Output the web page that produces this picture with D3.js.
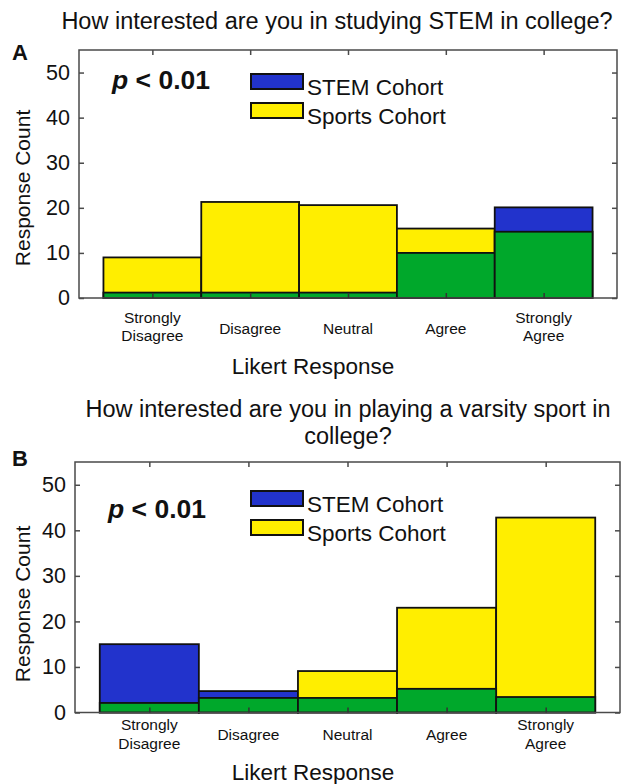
<!DOCTYPE html>
<html lang="en">

<head>
    <meta charset="UTF-8">
    <title>STEM vs Sports cohort Likert responses</title>
    <script src="https://cdn.jsdelivr.net/npm/d3@7"></script>
    <style>
        * {
            margin: 0;
            padding: 0;
        }

        body {
            background: #fff;
        }

        text {
            font-family: "Liberation Sans", Arial, sans-serif;
            fill: #111;
        }
    </style>
</head>

<body>
    <script>
        // data
        const categories = ["Strongly Disagree", "Disagree", "Neutral", "Agree", "Strongly Agree"];
        const stemA = [1.2, 1.2, 1.2, 10, 20.1];
        const sportsA = [9, 21.3, 20.6, 15.4, 14.7];
        const stemB = [15, 4.7, 3.2, 5.2, 3.4];
        const sportsB = [2.1, 3.2, 9.1, 23, 42.8];
        const yTicks = [0, 10, 20, 30, 40, 50];
        const seriesNames = ["STEM Cohort", "Sports Cohort"];

        const width = 624;
        const height = 784;
        const colors = { stem: "#2233cc", sports: "#ffee00", both: "#00a82b" };
        const axisColor = "#4a4a4a";

        const svg = d3.select("body").append("svg").attr("width", width).attr("height", height);

        const panels = [
            {
                letter: "A", title: ["How interested are you in studying STEM in college?"],
                titleX: 337, titleY: 29, stem: stemA, sports: sportsA,
                left: 79, right: 617, top: 50, bottom: 298,
                letterY: 60, pY: 89, legY: 74, lab1: 25, lab2: 43, labSingle: 36, xTitleY: 374, yTitleY: 188
            },
            {
                letter: "B", title: ["How interested are you in playing a varsity sport in", "college?"],
                titleX: 348, titleY: 417, stem: stemB, sports: sportsB,
                left: 75, right: 620, top: 462, bottom: 712.5,
                letterY: 466, pY: 518, legY: 491, lab1: 17.5, lab2: 36.5, labSingle: 27.5, xTitleY: 780, yTitleY: 604
            }
        ];

        const drawPanel = (p) => {
            const g = svg.append("g");
            const x = d3.scaleLinear().domain([0.25, 5.75]).range([p.left, p.right]);
            const y = d3.scaleLinear().domain([0, 55]).range([p.bottom, p.top]);
            const rows = categories.map((c, i) => ({
                c, i: i + 1, stem: p.stem[i], sports: p.sports[i],
                hi: Math.max(p.stem[i], p.sports[i]), lo: Math.min(p.stem[i], p.sports[i])
            }));

            // full bar in the colour of the larger cohort
            g.selectAll("rect.hi")
                .data(rows)
                .join("rect")
                .attr("class", "hi")
                .attr("x", d => x(d.i - 0.5))
                .attr("width", x(1.5) - x(0.5))
                .attr("y", d => y(d.hi))
                .attr("height", d => y(0) - y(d.hi))
                .attr("fill", d => d.stem > d.sports ? colors.stem : colors.sports)
                .attr("stroke", "#111")
                .attr("stroke-width", 1.8);

            // overlap of the two cohorts
            g.selectAll("rect.lo")
                .data(rows)
                .join("rect")
                .attr("class", "lo")
                .attr("x", d => x(d.i - 0.5))
                .attr("width", x(1.5) - x(0.5))
                .attr("y", d => y(d.lo))
                .attr("height", d => y(0) - y(d.lo))
                .attr("fill", colors.both)
                .attr("stroke", "#111")
                .attr("stroke-width", 1.8);

            // box + inward ticks
            g.append("rect")
                .attr("x", p.left).attr("y", p.top)
                .attr("width", p.right - p.left).attr("height", p.bottom - p.top)
                .attr("fill", "none").attr("stroke", axisColor).attr("stroke-width", 1.5);

            g.append("g")
                .attr("transform", `translate(${p.left},0)`)
                .call(d3.axisLeft(y).tickValues(yTicks).tickSizeInner(-5).tickSizeOuter(0).tickPadding(9))
                .call(a => a.select(".domain").remove())
                .call(a => a.selectAll("line").attr("stroke", axisColor).attr("stroke-width", 1.5))
                .call(a => a.selectAll("text").attr("font-size", 21.5).attr("fill", "#111")
                    .attr("font-family", "'Liberation Sans', Arial, sans-serif"));

            g.append("g")
                .attr("transform", `translate(${p.right},0)`)
                .call(d3.axisRight(y).tickValues(yTicks).tickSizeInner(-5).tickSizeOuter(0).tickFormat(""))
                .call(a => a.select(".domain").remove())
                .call(a => a.selectAll("line").attr("stroke", axisColor).attr("stroke-width", 1.5));

            g.append("g")
                .attr("transform", `translate(0,${p.top})`)
                .call(d3.axisTop(x).tickValues(d3.range(1, 6)).tickSizeInner(-5).tickSizeOuter(0).tickFormat(""))
                .call(a => a.select(".domain").remove())
                .call(a => a.selectAll("line").attr("stroke", axisColor).attr("stroke-width", 1.5));

            g.append("g")
                .attr("transform", `translate(0,${p.bottom})`)
                .call(d3.axisBottom(x).tickValues(d3.range(1, 6)).tickSizeInner(-5).tickSizeOuter(0).tickFormat(""))
                .call(a => a.select(".domain").remove())
                .call(a => a.selectAll("line").attr("stroke", "#333").attr("stroke-width", 1.5));

            // category labels, split onto two lines where MATLAB did
            const labels = g.selectAll("text.cat")
                .data(rows)
                .join("text")
                .attr("class", "cat")
                .attr("text-anchor", "middle")
                .attr("font-size", 15.5);
            labels.each(function (d) {
                const parts = d.c.split(" ");
                const t = d3.select(this);
                if (parts.length === 1) {
                    t.append("tspan").attr("x", x(d.i)).attr("y", p.bottom + p.labSingle).text(parts[0]);
                } else {
                    t.append("tspan").attr("x", x(d.i)).attr("y", p.bottom + p.lab1).text(parts[0]);
                    t.append("tspan").attr("x", x(d.i)).attr("y", p.bottom + p.lab2).text(parts[1]);
                }
            });

            svg.append("text")
                .attr("x", 313).attr("y", p.xTitleY)
                .attr("text-anchor", "middle").attr("font-size", 22.5)
                .text("Likert Response");

            svg.append("text")
                .attr("transform", `translate(30,${p.yTitleY}) rotate(-90)`)
                .attr("text-anchor", "middle").attr("font-size", 21)
                .text("Response Count");

            svg.append("text")
                .attr("text-anchor", "middle").attr("font-size", 23.5)
                .selectAll("tspan")
                .data(p.title)
                .join("tspan")
                .attr("x", p.titleX)
                .attr("y", (d, i) => p.titleY + i * 27)
                .text(d => d);

            svg.append("text")
                .attr("x", 12).attr("y", p.letterY)
                .attr("font-size", 22).attr("font-weight", "bold")
                .text(p.letter);

            const pt = svg.append("text")
                .attr("x", p.left + 33).attr("y", p.pY)
                .attr("font-size", 26.5).attr("font-weight", "bold");
            pt.append("tspan").attr("font-style", "italic").text("p");
            pt.append("tspan").text(" < 0.01");

            // legend
            const leg = svg.append("g")
                .selectAll("g")
                .data(seriesNames)
                .join("g")
                .attr("transform", (d, i) => `translate(251,${p.legY + i * 29})`);
            leg.append("rect")
                .attr("width", 52).attr("height", 15)
                .attr("fill", (d, i) => i === 0 ? colors.stem : colors.sports)
                .attr("stroke", "#111").attr("stroke-width", 2);
            leg.append("text")
                .attr("x", 56).attr("y", 21)
                .attr("font-size", 22.5)
                .text(d => d);
        };

        panels.forEach(drawPanel);
    </script>
</body>

</html>
